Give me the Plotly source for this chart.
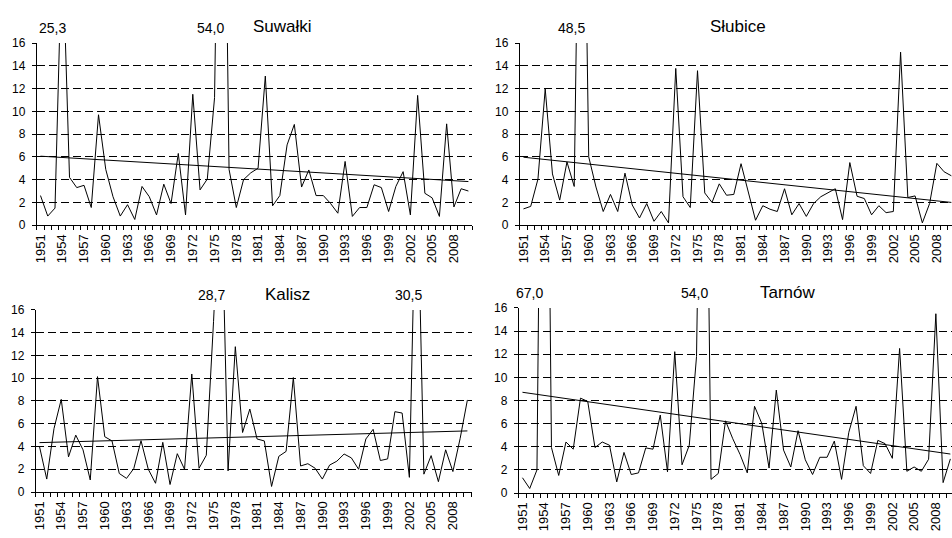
import plotly.graph_objects as go

years = list(range(1951, 2011))

suwalki = [2.6, 0.8, 1.5, 25.3, 4.2, 3.3, 3.5, 1.55, 9.7, 4.9,
           2.5, 0.8, 1.8, 0.5, 3.4, 2.5, 0.9, 3.6, 1.9, 6.3,
           0.9, 11.5, 3.1, 4.05, 11.2, 54.0, 4.9, 1.55, 4.0, 4.6,
           5.0, 13.1, 1.7, 2.6, 7.05, 8.85, 3.35, 4.85, 2.6, 2.6,
           1.9, 1.05, 5.6, 0.77, 1.55, 1.55, 3.55, 3.3, 1.2, 3.4,
           4.7, 0.9, 11.4, 2.8, 2.4, 0.77, 8.9, 1.6, 3.2, 3.0]

slubice = [1.43, 1.65, 4.05, 11.97, 4.5, 2.2, 5.55, 3.4, 48.5, 6.0,
           3.35, 1.2, 2.7, 1.2, 4.57, 1.77, 0.63, 1.9, 0.34, 1.2,
           0.2, 13.77, 2.5, 1.55, 13.57, 2.83, 2.0, 3.63, 2.63, 2.7,
           5.4, 2.9, 0.43, 1.71, 1.4, 1.2, 3.2, 0.91, 1.9, 0.77,
           1.9, 2.5, 2.86, 3.2, 0.49, 5.5, 2.54, 2.34, 0.91, 1.71,
           1.1, 1.2, 15.2, 2.43, 2.57, 0.2, 1.9, 5.43, 4.69, 4.34]

kalisz = [4.0, 1.14, 5.57, 8.14, 3.09, 5.0, 3.71, 1.06, 10.14, 4.86,
          4.49, 1.63, 1.2, 2.06, 4.51, 2.0, 0.77, 4.37, 0.66, 3.37,
          2.0, 10.37, 2.09, 3.23, 15.0, 28.7, 1.86, 12.77, 5.23, 7.29,
          4.66, 4.49, 0.49, 3.14, 3.57, 10.06, 2.29, 2.49, 2.09, 1.14,
          2.37, 2.71, 3.34, 3.0, 2.0, 4.66, 5.51, 2.77, 2.91, 7.06,
          6.94, 1.29, 30.5, 1.57, 3.2, 0.91, 3.71, 1.8, 4.71, 8.09]

tarnow = [1.32, 0.39, 2.0, 67.0, 3.93, 1.52, 4.41, 3.79, 8.2, 7.92,
          3.93, 4.41, 4.13, 0.96, 3.51, 1.6, 1.74, 3.9, 3.79, 6.74,
          1.83, 12.22, 2.44, 4.13, 11.8, 54.0, 1.18, 1.69, 6.24, 4.69,
          3.34, 1.74, 7.5, 6.01, 2.16, 8.9, 3.71, 2.25, 5.39, 2.87,
          1.6, 3.09, 3.09, 4.49, 1.18, 5.25, 7.5, 2.36, 1.69, 4.55,
          4.27, 3.0, 12.5, 1.88, 2.25, 1.88, 2.92, 15.5, 0.9, 2.95]

# trend line values at first and last year
trend_suwalki = [6.06, 3.83]
trend_slubice = [5.97, 2.0]
trend_kalisz = [4.34, 5.37]
trend_tarnow = [8.71, 3.37]

stations = ["Suwałki", "Słubice", "Kalisz", "Tarnów"]
series = [suwalki, slubice, kalisz, tarnow]
trends = [trend_suwalki, trend_slubice, trend_kalisz, trend_tarnow]

y_ticks = [0, 2, 4, 6, 8, 10, 12, 14, 16]
x_tick_years = years[::3]

W, H = 952, 538
# panel pixel boxes: x0, x1, ytop, ybottom
panels = [(33, 470, 37, 224), (518, 952, 37, 224),
          (32, 470, 311, 498), (517, 952, 309, 499)]
title_pos = [(280, 20), (737, 20), (285, 295), (787, 293)]
label_shift = [[-10, -11], [-10], [-9, -8], [-15, -9]]
cat_px = 437 / 60.0

FONT = "Liberation Sans, Arial, sans-serif"

fig = go.Figure()
annotations = []
layout = {}
xidx = list(range(len(years)))

for k, (name, vals, tr, box) in enumerate(zip(stations, series, trends, panels)):
    sfx = "" if k == 0 else str(k + 1)
    x0, x1, yt, yb = box
    fig.add_trace(go.Scatter(x=xidx, y=vals, mode="lines",
                             line=dict(color="black", width=1),
                             xaxis="x" + sfx, yaxis="y" + sfx,
                             showlegend=False, hoverinfo="skip"))
    fig.add_trace(go.Scatter(x=[xidx[0], xidx[-1]], y=tr, mode="lines",
                             line=dict(color="black", width=1),
                             xaxis="x" + sfx, yaxis="y" + sfx,
                             showlegend=False, hoverinfo="skip"))
    right = -0.5 + (x1 - x0) / cat_px
    layout["xaxis" + sfx] = dict(
        domain=[x0 / W, x1 / W], anchor="y" + sfx,
        range=[-0.5, right], showgrid=False, zeroline=False,
        showline=True, linecolor="black", linewidth=1,
        tickmode="array",
        tickvals=[years.index(y) for y in x_tick_years],
        ticktext=[str(y) for y in x_tick_years],
        ticks="", tickangle=-90, ticklabelstandoff=3,
        tickfont=dict(family=FONT, size=13, color="black"),
        minor=dict(tickmode="array",
                   tickvals=[i - 0.5 for i in range(len(years) + 1)],
                   ticks="outside", ticklen=4, tickcolor="black",
                   tickwidth=1, showgrid=False),
        fixedrange=True,
    )
    layout["yaxis" + sfx] = dict(
        domain=[1 - yb / H, 1 - yt / H], anchor="x" + sfx,
        range=[0, 16], tickmode="array", tickvals=y_ticks,
        showgrid=True, gridcolor="black", gridwidth=1, griddash="8px,4px",
        zeroline=False, showline=True, linecolor="black", linewidth=1,
        ticks="outside", ticklen=4, tickcolor="black", ticklabelstandoff=4,
        tickfont=dict(family=FONT, size=12, color="black"),
        fixedrange=True,
    )
    tx, ty = title_pos[k]
    annotations.append(dict(text=name, xref="paper", yref="paper",
                            x=tx / W, y=1 - ty / H, xanchor="center",
                            yanchor="middle", showarrow=False,
                            font=dict(family=FONT, size=17, color="black")))
    j = 0
    for i, v in enumerate(vals):
        if v > 16:
            annotations.append(dict(
                text=f"{v:.1f}".replace(".", ","),
                xref="x" + sfx, yref="y" + sfx, x=i, y=16,
                xanchor="center", yanchor="bottom", yshift=5,
                xshift=label_shift[k][j], showarrow=False,
                font=dict(family=FONT, size=14, color="black")))
            j += 1

fig.update_layout(width=W, height=H, margin=dict(l=0, r=0, t=0, b=0),
                  paper_bgcolor="white", plot_bgcolor="white",
                  annotations=annotations, **layout)

fig.write_html("out.html")
